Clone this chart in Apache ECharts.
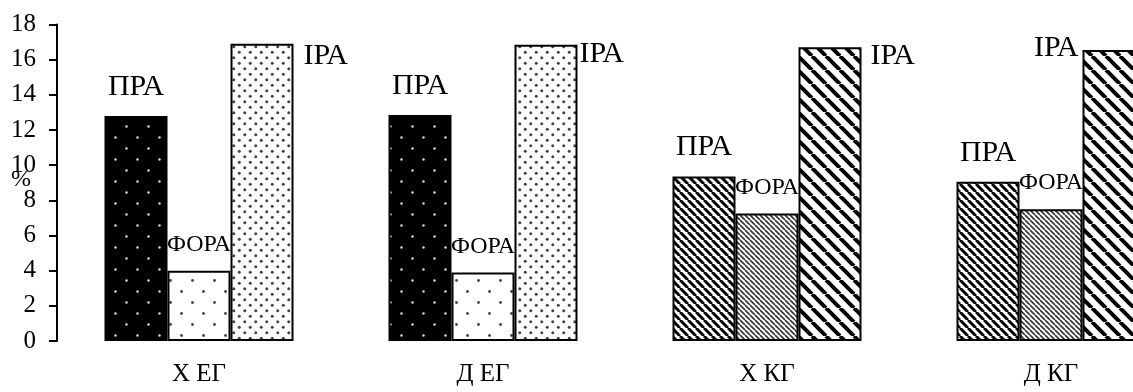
<!DOCTYPE html>
<html>
<head>
<meta charset="utf-8">
<script src="https://cdn.jsdelivr.net/npm/echarts@6/dist/echarts.min.js"></script>
<style>
html,body{margin:0;padding:0;background:#fff;}
#c{width:1133px;height:392px;}
</style>
</head>
<body>
<div id="c"></div>
<script>
// ---- data ----
var categories = ['Х ЕГ', 'Д ЕГ', 'Х КГ', 'Д КГ'];
var seriesNames = ['ПРА', 'ФОРА', 'ІРА'];
var praValues = [12.8, 12.85, 9.35, 9.05];
var foraValues = [4.0, 3.9, 7.25, 7.5];
var iraValues = [16.9, 16.85, 16.7, 16.55];
var yTicks = {min: 0, max: 18, interval: 2};
var yName = '%';

// ---- patterns ----
function dotPattern(bg, dot, size, r) {
  var c = document.createElement('canvas');
  c.width = size; c.height = size;
  var g = c.getContext('2d');
  g.fillStyle = bg; g.fillRect(0, 0, size, size);
  g.fillStyle = dot;
  [[size / 4, size / 4], [size * 3 / 4, size * 3 / 4]].forEach(function (p) {
    g.beginPath(); g.arc(p[0], p[1], r, 0, Math.PI * 2); g.fill();
  });
  return {image: c, repeat: 'repeat'};
}
function stripePattern(bg, fg, p, lw) {
  var c = document.createElement('canvas');
  c.width = p; c.height = p;
  var g = c.getContext('2d');
  g.fillStyle = bg; g.fillRect(0, 0, p, p);
  g.strokeStyle = fg; g.lineWidth = lw;
  for (var k = -1; k <= 1; k++) {
    g.beginPath(); g.moveTo(k * p, 0); g.lineTo(k * p + p, p); g.stroke();
  }
  return {image: c, repeat: 'repeat'};
}

var pats = {
  praE: dotPattern('#000', '#e0e0e0', 22, 1.2),
  foraE: dotPattern('#fff', '#444', 22, 1.4),
  iraE: dotPattern('#fff', '#444', 11, 1.5),
  praK: stripePattern('#fff', '#000', 8, 3),
  foraK: stripePattern('#fff', '#333', 5, 1.6),
  iraK: stripePattern('#fff', '#000', 14, 4)
};
var groupKind = ['E', 'E', 'K', 'K'];

var FONT = '"Liberation Serif", "Times New Roman", serif';

function build(values, key, labelFn) {
  return values.map(function (v, i) {
    var item = {value: v, itemStyle: {color: pats[key + groupKind[i]]}};
    if (labelFn) item.label = labelFn(i);
    return item;
  });
}

var iraLabel = function (i) {
  if (i === 3) {
    return {position: ['0%', '0%'], align: 'right', verticalAlign: 'middle', offset: [-4, -2]};
  }
  var dx = [10, 2, 9][i];
  var dy = [-3, -6, -6][i];
  return {position: ['100%', '0%'], align: 'left', verticalAlign: 'top', offset: [dx, dy]};
};

var common = {
  type: 'bar',
  barWidth: 63,
  barGap: '0%',
  itemStyle: {borderColor: '#000', borderWidth: 2},
  emphasis: {disabled: true},
  silent: true
};

var option = {
  animation: false,
  backgroundColor: '#fff',
  title: {
    text: yName, left: 11, top: 168, padding: 0,
    textStyle: {color: '#000', fontSize: 24, fontWeight: 'normal', fontFamily: FONT}
  },
  grid: {left: 57, right: -60, top: 24.5, bottom: 51, containLabel: false, outerBoundsMode: 'none'},
  xAxis: {
    type: 'category',
    data: categories,
    axisLine: {show: false},
    axisTick: {show: false},
    axisLabel: {color: '#000', fontSize: 25, fontFamily: FONT, margin: 21}
  },
  yAxis: {
    type: 'value',
    min: yTicks.min, max: yTicks.max, interval: yTicks.interval,
    axisLine: {show: true, lineStyle: {color: '#000', width: 2}},
    axisTick: {show: true, length: 8, lineStyle: {color: '#000', width: 2}},
    axisLabel: {color: '#000', fontSize: 25, fontFamily: FONT, margin: 21},
    splitLine: {show: false}
  },
  series: [
    Object.assign({}, common, {
      name: seriesNames[0],
      data: build(praValues, 'pra'),
      label: {show: true, position: 'top', distance: 14, formatter: '{a}', color: '#000', fontSize: 30, fontFamily: FONT}
    }),
    Object.assign({}, common, {
      name: seriesNames[1],
      data: build(foraValues, 'fora'),
      label: {show: true, position: 'top', distance: 14, formatter: '{a}', color: '#000', fontSize: 24, fontFamily: FONT}
    }),
    Object.assign({}, common, {
      name: seriesNames[2],
      data: build(iraValues, 'ira', iraLabel),
      label: {show: true, formatter: '{a}', color: '#000', fontSize: 30, fontFamily: FONT}
    })
  ]
};

var chart = echarts.init(document.getElementById('c'), null, {renderer: 'canvas'});
chart.setOption(option);
</script>
</body>
</html>
